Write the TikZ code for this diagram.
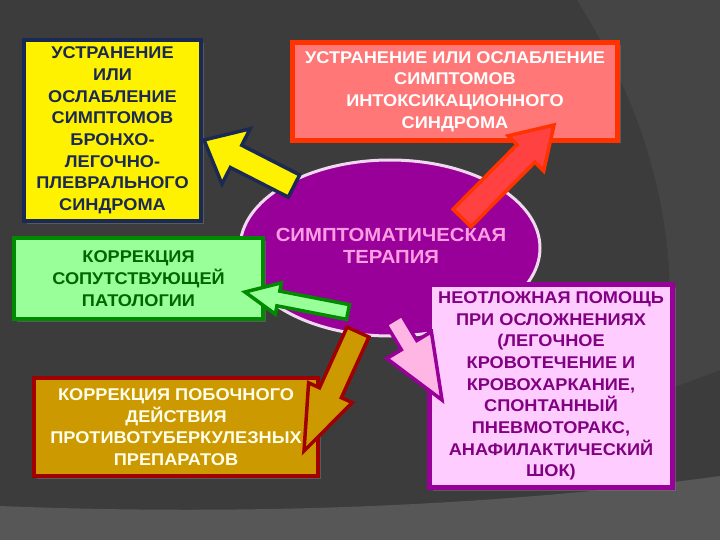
\documentclass[tikz,border=0pt]{standalone}
\usepackage{fontspec}
\setmainfont{Liberation Sans}[FakeStretch=1.07]
\usetikzlibrary{calc,shadows}
\definecolor{bgdark}{HTML}{3C3C3C}
\definecolor{bgmid}{HTML}{454545}
\definecolor{bglight}{HTML}{575757}
\definecolor{navy}{HTML}{1B2A52}
\definecolor{salmon}{HTML}{FF7777}
\definecolor{redline}{HTML}{FF3300}
\definecolor{lgreen}{HTML}{99FF99}
\definecolor{dgreen}{HTML}{008A00}
\definecolor{gold}{HTML}{CC9900}
\definecolor{dred}{HTML}{A00000}
\definecolor{lpink}{HTML}{FFCCFF}
\definecolor{violet}{HTML}{990099}
\tikzset{font={\fontsize{17pt}{21.7pt}\selectfont\bfseries}}

\begin{document}
\begin{tikzpicture}[x=1pt,y=-1pt,
  box/.style={draw, line width=4pt, inner sep=0pt, align=center,
    drop shadow={shadow xshift=3pt,shadow yshift=-3pt,opacity=0.45}},
  yelarrow/.style={draw=navy, fill=yellow, line width=3.5pt},
  redarrow/.style={draw=redline, fill=red!45!salmon, line width=3.5pt},
  grnarrow/.style={draw=dgreen, fill=lgreen, line width=3.5pt},
  gldarrow/.style={draw=dred, fill=gold, line width=3.5pt},
  pnkarrow/.style={draw=violet, fill=pink!70!magenta!60, line width=3.5pt}]
      %Background
      \fill[bgdark] (0,0) rectangle (720,540);
      \fill[bgmid] (577,0) .. controls (640,100) and (670,200) .. (670,300)
        -- (672,388) -- (720,370) -- (720,0) -- cycle;
      \fill[bglight] (0,506) .. controls (250,516) and (500,506) .. (720,476)
        -- (720,540) -- (0,540) -- cycle;
      \useasboundingbox (0,0) rectangle (720,540);
      %Centre
      \draw[line width=3pt, draw=violet!15!white, fill=violet]
        (390,248) ellipse [x radius=150, y radius=88];
      \node[align=center, text=pink!60!magenta!70!white,
        font={\fontsize{19pt}{22pt}\selectfont\bfseries}] (ther) at (391,246)
        {СИМПТОМАТИЧЕСКАЯ\\ТЕРАПИЯ};
      %Boxes
      \node[box, draw=navy, fill=yellow, text=navy, minimum width=177pt,
        minimum height=181pt] (bronch) at (112.5,130.5)
        {УСТРАНЕНИЕ\\ИЛИ\\ОСЛАБЛЕНИЕ\\СИМПТОМОВ\\БРОНХО-\\ЛЕГОЧНО-\\ПЛЕВРАЛЬНОГО\\СИНДРОМА};
      \node[box, line width=5pt, draw=redline, fill=salmon, text=white,
        minimum width=325pt, minimum height=98pt] (intox) at (455,91.5)
        {УСТРАНЕНИЕ ИЛИ ОСЛАБЛЕНИЕ\\СИМПТОМОВ\\ИНТОКСИКАЦИОННОГО\\СИНДРОМА};
      \node[box, draw=dgreen, fill=lgreen, text=green!40!black,
        minimum width=249pt, minimum height=81pt] (comorb) at (138.5,278.5)
        {КОРРЕКЦИЯ\\СОПУТСТВУЮЩЕЙ\\ПАТОЛОГИИ};
      \node[box, draw=dred, fill=gold, text=yellow!8!white,
        minimum width=284pt, minimum height=98pt] (sidefx) at (176,427)
        {КОРРЕКЦИЯ ПОБОЧНОГО\\ДЕЙСТВИЯ\\ПРОТИВОТУБЕРКУЛЕЗНЫХ\\ПРЕПАРАТОВ};
      \node[box, line width=5pt, draw=violet, fill=lpink, text=violet!85!black,
        minimum width=243pt, minimum height=203pt] (urgent) at (551,386)
        {НЕОТЛОЖНАЯ ПОМОЩЬ\\ПРИ ОСЛОЖНЕНИЯХ\\(ЛЕГОЧНОЕ\\КРОВОТЕЧЕНИЕ И\\КРОВОХАРКАНИЕ,\\СПОНТАННЫЙ\\ПНЕВМОТОРАКС,\\АНАФИЛАКТИЧЕСКИЙ\\ШОК)};
      %Arrow ends
      \coordinate (yt) at (294,186);  \coordinate (yh) at (204,140);
      \coordinate (rt) at (462,218);  \coordinate (rh) at (554,125);
      \coordinate (gt) at (348,312);  \coordinate (gh) at (245,292);
      \coordinate (dt) at (358,332);  \coordinate (dh) at (304,451);
      \coordinate (pt) at (394,320);  \coordinate (ph) at (442,400);
      %Arrows
      \foreach \t/\h/\hl/\sw/\hw/\s in {yt/yh/36/12.5/31/yelarrow,
          rt/rh/40/12.5/25/redarrow, gt/gh/34/7.5/16/grnarrow,
          dt/dh/64/12/24/gldarrow, pt/ph/64/9/26/pnkarrow}
        \draw[\s] ($(\t)!\sw pt!90:(\h)$)
          -- ($($(\h)!\hl pt!(\t)$)!\sw pt!-90:(\t)$)
          -- ($($(\h)!\hl pt!(\t)$)!\hw pt!-90:(\t)$) -- (\h)
          -- ($($(\h)!\hl pt!(\t)$)!\hw pt!90:(\t)$)
          -- ($($(\h)!\hl pt!(\t)$)!\sw pt!90:(\t)$)
          -- ($(\t)!\sw pt!-90:(\h)$) -- cycle;
    \end{tikzpicture}
\end{document}
